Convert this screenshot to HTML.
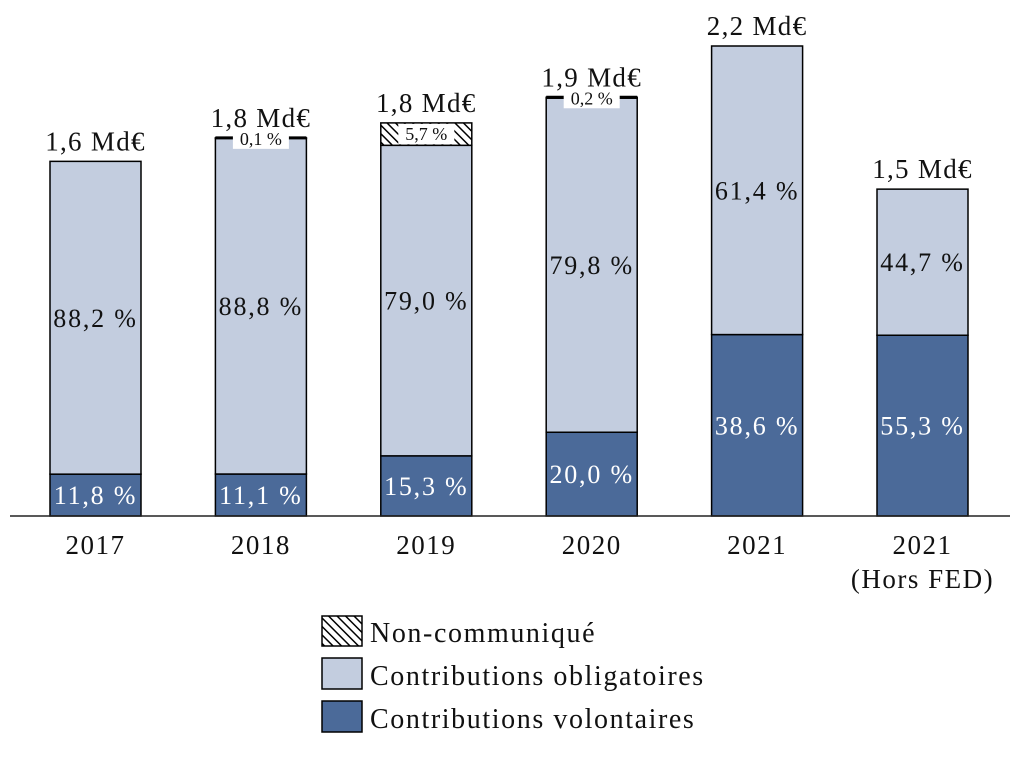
<!DOCTYPE html>
<html><head><meta charset="utf-8"><style>
body{margin:0;background:#fff}
svg text{font-family:"Liberation Serif",serif;fill:#111}
</style></head><body>
<svg id="c" width="1020" height="754" viewBox="0 0 1020 754" xmlns="http://www.w3.org/2000/svg">
<defs><pattern id="hatch" patternUnits="userSpaceOnUse" width="6" height="6" patternTransform="rotate(-45)"><rect width="6" height="6" fill="#fff"/><line x1="0" y1="0" x2="0" y2="6" stroke="#000" stroke-width="3"/></pattern></defs>
<g id="bars"></g>
<line x1="10" y1="516" x2="1010" y2="516" stroke="#222" stroke-width="1.5"/>
<g>
<rect x="322" y="616" width="40" height="30" fill="url(#hatch)" stroke="#000" stroke-width="1.5"/>
<text x="370" y="642" font-size="28" letter-spacing="1.6">Non-communiqué</text>
<rect x="322" y="658" width="40" height="31" fill="#c3cddf" stroke="#000" stroke-width="1.5"/>
<text x="370" y="685" font-size="28" letter-spacing="1.6">Contributions obligatoires</text>
<rect x="322" y="701" width="40" height="31" fill="#4b6a99" stroke="#000" stroke-width="1.5"/>
<text x="370" y="728" font-size="28" letter-spacing="1.6">Contributions volontaires</text>
</g>
</svg>
<script>
const categories=["2017","2018","2019","2020","2021","2021|(Hors FED)"];
const totals=[1.66,1.77,1.84,1.96,2.2,1.53];
const totalLabels=["1,6 Md€","1,8 Md€","1,8 Md€","1,9 Md€","2,2 Md€","1,5 Md€"];
const volontaires=[11.8,11.1,15.3,20.0,38.6,55.3];
const obligatoires=[88.2,88.8,79.0,79.8,61.4,44.7];
const nonCommunique=[0,0.1,5.7,0.2,0,0];
const base=516, scale=470/2.2, barW=91;
function x(i){return 50+i*165.4;}
function y(v){return base-v*scale;}
const g=document.getElementById('bars');
const NS="http://www.w3.org/2000/svg";
function el(t,a,p){const e=document.createElementNS(NS,t);for(const k in a)e.setAttribute(k,a[k]);(p||g).appendChild(e);return e;}
const fmt=v=>v.toFixed(1).replace('.',',')+' %';
categories.forEach((c,i)=>{
  const x0=x(i), T=totals[i];
  let acc=0;
  const segs=[[volontaires[i],'#4b6a99','#fff','volontaires'],[obligatoires[i],'#c3cddf','#111','obligatoires'],[nonCommunique[i],'url(#hatch)','#111','non-communique']];
  segs.forEach(s=>{
    const v=s[0]; if(v<=0)return;
    const y1=y(T*acc/100), y2=y(T*(acc+v)/100); acc+=v;
    const h=y1-y2;
    const r=el('rect',{x:x0,y:y2,width:barW,height:Math.max(h,0.5),fill:s[1],stroke:'#000','stroke-width':1.5});
    
    
    if(h>30){
      const t=el('text',{x:x0+barW/2,y:(y1+y2)/2+9,'font-size':26,'letter-spacing':1.8,'text-anchor':'middle'});
      
      
      t.style.fill=s[2];t.textContent=fmt(v);
    } else {
      const small=h<4;
      if(small){el('line',{x1:x0,x2:x0+barW,y1:y2,y2:y2,stroke:'#000','stroke-width':3});}
      const bw=56, by=small?y2-9:y2+1, bh=small?20:h-2;
      const b=el('rect',{x:x0+barW/2-bw/2,y:by,width:bw,height:bh,fill:'#fff'});
      
      
      const t=el('text',{x:x0+barW/2,y:by+bh/2+6,'font-size':18,'text-anchor':'middle'});
      
      
      t.textContent=fmt(v);
    }
  });
  const tl=el('text',{x:x0+barW/2,y:y(T)-11,'font-size':27,'letter-spacing':1.3,'text-anchor':'middle'});
  
  
  tl.textContent=totalLabels[i];
  c.split('|').forEach((line,k)=>{
    const t=el('text',{x:x0+barW/2,y:554+k*34,'font-size':27,'letter-spacing':1.5,'text-anchor':'middle'});
    
    
    t.textContent=line;
  });
});
</script>
</body></html>
